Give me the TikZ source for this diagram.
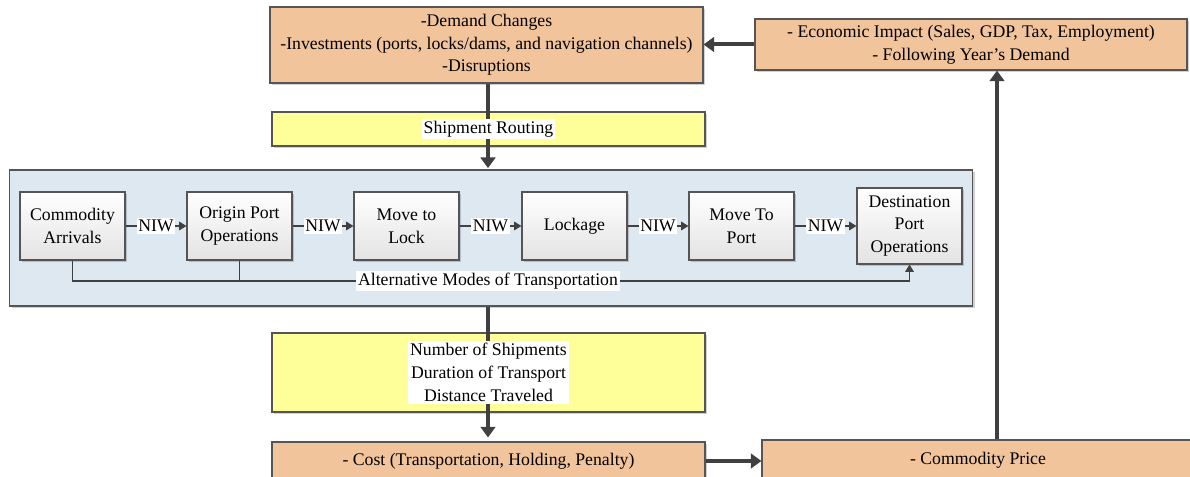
\documentclass[tikz,border=0pt]{standalone}
\usepackage{fontspec}
\setmainfont{Liberation Serif}
\usetikzlibrary{arrows.meta,shadows}
\definecolor{orng}{HTML}{F2C49B}
\definecolor{yel}{HTML}{FFFF99}
\definecolor{panelblue}{HTML}{DEE8F1}
\definecolor{bord}{HTML}{555555}
\definecolor{arr}{HTML}{404040}
\def\px{0.75pt}
\begin{document}
\begin{tikzpicture}[x=0.75pt,y=-0.75pt,
  txt/.style={font=\fontsize{13.3}{17}\selectfont, align=center},
  shad/.style={drop shadow={shadow xshift=1.5pt, shadow yshift=-1.5pt, fill=black, opacity=0.18}},
  bigbox/.style={draw=bord, line width=0.8pt, shad, txt, inner sep=0pt},
  orbox/.style={bigbox, fill=orng},
  yelbox/.style={bigbox, fill=yel},
  stepbox/.style={draw=bord, line width=0.8pt, top color=white, bottom color=gray!22, shad, txt,
    minimum width={105*\px}, minimum height={68*\px}, inner sep=0pt},
  whitelbl/.style={txt, fill=white, inner sep=1.2pt},
  thickarrow/.style={draw=arr, line width=3pt, -{Triangle[length=8pt,width=11pt]}},
  thinarrow/.style={draw=arr, line width=0.8pt, -{Triangle[length=5.5pt,width=6.5pt]}},
  thinline/.style={draw=arr, line width=0.8pt}
]
\useasboundingbox (0,0) rectangle (1190,477);
\clip (0,0) rectangle (1190,477);

% top boxes
\node[orbox, minimum width={433*\px}, minimum height={76*\px}] (top) at (486.5,45)
  {-Demand Changes\\-Investments (ports, locks/dams, and navigation channels)\\-Disruptions};
\node[orbox, minimum width={432*\px}, minimum height={51*\px}] (econ) at (971,44.5)
  {- Economic Impact (Sales, GDP, Tax, Employment)\\- Following Year's Demand};

% yellow routing box
\node[yelbox, minimum width={433*\px}, minimum height={34*\px}] (route) at (488.5,129) {};

% panel
\node[draw=bord, line width=0.8pt, fill=panelblue, shad, minimum width={963*\px}, minimum height={136*\px}, inner sep=0pt] (panel) at (491,238) {};

% steps
\node[stepbox] (ca) at (72.5,226) {Commodity\\Arrivals};
\node[stepbox] (op) at (239.5,226) {Origin Port\\Operations};
\node[stepbox] (ml) at (406.5,226) {Move to\\Lock};
\node[stepbox] (lk) at (574.5,226) {Lockage};
\node[stepbox] (mp) at (741.5,226) {Move To\\Port};
\node[stepbox, minimum height={76*\px}] (dp) at (909.5,226) {Destination\\Port\\Operations};

% yellow output box
\node[yelbox, minimum width={433*\px}, minimum height={79*\px}] (out) at (488.5,372.5) {};

% bottom boxes
\node[orbox, minimum width={433*\px}, minimum height={38*\px}] (cost) at (488.5,461)
  {- Cost (Transportation, Holding, Penalty)};
\node[orbox, minimum width={432*\px}, minimum height={40*\px}] (cp) at (978,460)
  {- Commodity Price};

% NIW connectors
\foreach \a/\b in {ca/op, op/ml, ml/lk, lk/mp, mp/dp}{
  \draw[thinarrow] (\a.east) -- node[whitelbl] {NIW} (\b.west |- \a.east);
}

% alternative modes
\coordinate (alt) at (488,281);
\draw[thinarrow] (ca.south) |- (alt) -| (dp.south);
\draw[thinline] (op.south) -- (op.south |- alt);
\node[whitelbl] (altlbl) at (alt) {Alternative Modes of Transportation};

% thick flow
\coordinate (vx) at (997,0);
\coordinate (cx) at (488,0);
\draw[thickarrow, shorten >=1pt] (top.south -| cx) -- (panel.north -| cx);
\node[whitelbl] (routelbl) at (route.center) {Shipment Routing};
\draw[thickarrow, shorten >=3pt] (panel.south -| cx) -- (cost.north -| cx);
\node[whitelbl, inner sep=1.8pt] (outlbl) at (out.center) {Number of Shipments\\Duration of Transport\\Distance Traveled};
\draw[thickarrow] (econ.west) -- (top.east |- econ.west);
\draw[thickarrow] (cost.east) -- (cp.west |- cost.east);
\draw[thickarrow] (cp.north -| vx) -- (econ.south -| vx);
\end{tikzpicture}
\end{document}
